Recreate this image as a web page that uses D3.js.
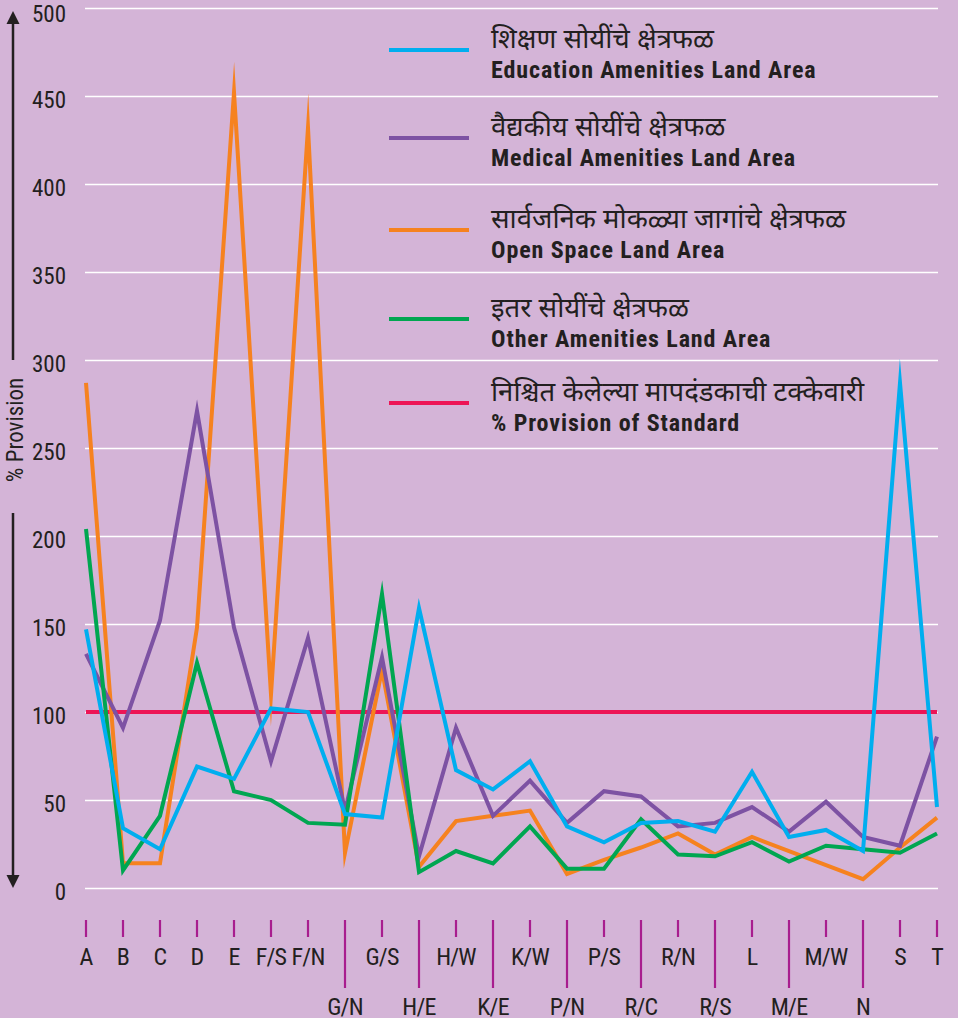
<!DOCTYPE html>
<meta charset="utf-8">
<script src="https://cdn.jsdelivr.net/npm/d3@7"></script>
<style>
    body { margin: 0; background: #d4b4d7; }
    text { fill: #231f20; font-family: "Liberation Sans Narrow", "Roboto Condensed", "DejaVu Sans Condensed", sans-serif; }
    .series { fill: none; stroke-width: 4; stroke-linejoin: miter; stroke-miterlimit: 30; }
</style>
<body>
<svg class="chart"></svg>
<script>
    ///////////////////////
    // Data
    var categories = ["A", "B", "C", "D", "E", "F/S", "F/N", "G/N", "G/S", "H/E", "H/W", "K/E",
        "K/W", "P/N", "P/S", "R/C", "R/N", "R/S", "L", "M/E", "M/W", "N", "S", "T"];

    var education = [147, 34, 22, 69, 62, 102, 100, 42, 40, 159, 67, 56, 72, 35, 26, 37, 38, 32, 66, 29, 33, 21, 287, 46];
    var medical = [133, 91, 152, 271, 148, 72, 142, 44, 131, 18, 91, 41, 61, 37, 55, 52, 35, 37, 46, 32, 49, 29, 24, 86];
    var openSpace = [287, 14, 14, 148, 452, 110, 432, 20, 124, 12, 38, 41, 44, 8, 16, 23, 31, 19, 29, 21, 13, 5, 23, 40];
    var other = [204, 10, 41, 128, 55, 50, 37, 36, 167, 9, 21, 14, 35, 11, 11, 39, 19, 18, 26, 15, 24, 22, 20, 31];
    var standard = [100, 100, 100, 100, 100, 100, 100, 100, 100, 100, 100, 100,
        100, 100, 100, 100, 100, 100, 100, 100, 100, 100, 100, 100];

    var yTicks = [0, 50, 100, 150, 200, 250, 300, 350, 400, 450, 500];

    var series = [
        { mr: "शिक्षण सोयींचे क्षेत्रफळ", en: "Education Amenities Land Area", values: education, color: "#00aeef" },
        { mr: "वैद्यकीय सोयींचे क्षेत्रफळ", en: "Medical Amenities Land Area", values: medical, color: "#7d52a3" },
        { mr: "सार्वजनिक मोकळ्या जागांचे क्षेत्रफळ", en: "Open Space Land Area", values: openSpace, color: "#f6821f" },
        { mr: "इतर सोयींचे क्षेत्रफळ", en: "Other Amenities Land Area", values: other, color: "#00a651" },
        { mr: "निश्चित केलेल्या मापदंडकाची टक्केवारी", en: "% Provision of Standard", values: standard, color: "#ed1556" }
    ];

    ///////////////////////
    // Chart Size Setup
    var W = 958, H = 1018;
    var chart = d3.select(".chart").attr("width", W).attr("height", H);

    chart.append("rect").attr("width", W).attr("height", H).attr("fill", "#d4b4d7");

    ///////////////////////
    // Scales
    var x = d3.scalePoint().domain(categories).range([86, 937]);
    var y = d3.scaleLinear().domain([0, 500]).range([888, 8]);

    ///////////////////////
    // Y axis + grid
    var yAxis = d3.axisLeft(y)
        .tickValues(yTicks)
        .tickSizeInner(-(938 - 85))
        .tickSizeOuter(0)
        .tickPadding(19);

    var gy = chart.append("g")
        .attr("transform", "translate(85,0)")
        .call(yAxis);
    gy.select(".domain").remove();
    gy.selectAll("line").attr("stroke", "#fff").attr("stroke-width", 1.6);
    gy.selectAll("text")
        .attr("fill", "#231f20")
        .attr("dy", function(d) { return d === 500 ? "0.58em" : "0.5em"; })
        .style("font-size", "23px")
        .attr("font-family", null);

    // axis title with arrows
    chart.append("line").attr("x1", 13).attr("x2", 13).attr("y1", 22).attr("y2", 360)
        .attr("stroke", "#231f20").attr("stroke-width", 2.5);
    chart.append("line").attr("x1", 13).attr("x2", 13).attr("y1", 513).attr("y2", 877)
        .attr("stroke", "#231f20").attr("stroke-width", 2.5);
    chart.append("path").attr("d", "M13,11L6.5,24L19.5,24Z").attr("fill", "#231f20");
    chart.append("path").attr("d", "M13,888L6.5,875L19.5,875Z").attr("fill", "#231f20");

    chart.append("text")
        .text("% Provision")
        .attr("text-anchor", "middle")
        .attr("transform", "translate(23,430) rotate(-90)")
        .style("font-size", "23px");

    ///////////////////////
    // X axis (two rows of labels)
    var gx = chart.append("g");
    categories.forEach(function(c, i) {
        var low = i >= 7 && i <= 21 && i % 2 === 1;
        gx.append("line")
            .attr("x1", x(c)).attr("x2", x(c))
            .attr("y1", 920).attr("y2", low ? 988 : 937)
            .attr("stroke", "#a81d8e").attr("stroke-width", 2.2);
        gx.append("text")
            .text(c)
            .attr("x", x(c))
            .attr("y", low ? 1015 : 965)
            .attr("text-anchor", "middle")
            .style("font-size", "24px")
            .style("letter-spacing", "-0.8px");
    });

    ///////////////////////
    // Lines
    var line = d3.line()
        .x(function(d, i) { return x(categories[i]); })
        .y(function(d) { return y(d); });

    // standard line at the back, then the land-area series
    [4, 2, 1, 3, 0].forEach(function(k) {
        chart.append("path")
            .datum(series[k].values)
            .attr("class", "series")
            .attr("stroke", series[k].color)
            .attr("d", line);
    });

    ///////////////////////
    // Legend
    var legendLineY = [50, 138, 230, 319, 403];
    var legend = chart.append("g");
    series.forEach(function(s, i) {
        var ly = legendLineY[i];
        legend.append("line")
            .attr("x1", 389).attr("x2", 469)
            .attr("y1", ly).attr("y2", ly)
            .attr("stroke", s.color).attr("stroke-width", 4);
        legend.append("text")
            .text(s.mr)
            .attr("x", 491).attr("y", ly - 2)
            .style("font-family", "'Noto Sans Devanagari', 'Lohit Devanagari', 'Noto Sans', sans-serif")
            .style("font-size", "27.5px");
        legend.append("text")
            .text(s.en)
            .attr("x", 491).attr("y", ly + 28)
            .style("font-size", "24px")
            .style("font-weight", "bold")
            .style("letter-spacing", "0.9px");
    });
</script>
</body>
